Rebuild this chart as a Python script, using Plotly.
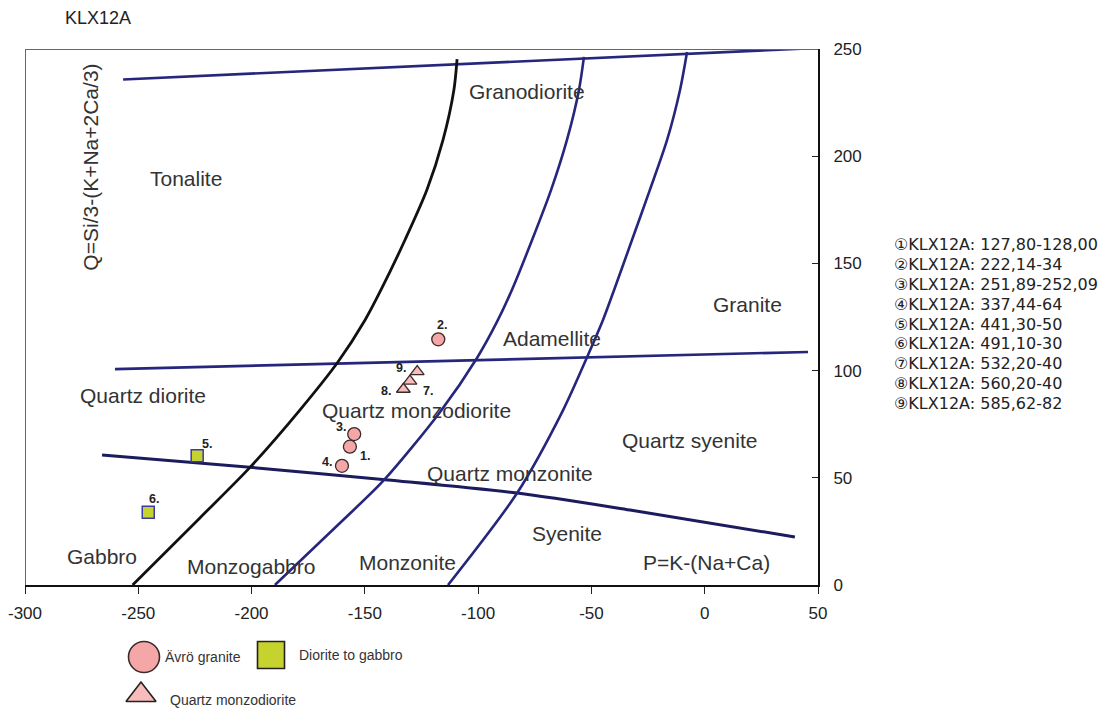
import plotly.graph_objects as go

# ---------------- data ----------------
title_text = "KLX12A"
y_title = "Q=Si/3-(K+Na+2Ca/3)"
x_ticks = [-300, -250, -200, -150, -100, -50, 0, 50]
x_tick_labels = ["-300", "-250", "-200", "-150", "-100", "-50", "0", "50"]
y_ticks = [0, 50, 100, 150, 200, 250]
y_tick_labels = ["0", "50", "100", "150", "200", "250"]

# classification boundaries
upper_x = [-256.7, 50.0]
upper_y = [235.8, 250.5]
middle_x = [-260.3, 45.6]
middle_y = [100.7, 108.7]
lower_x = [-266.0, -197.6, -139.8, -82.8, -33.0, 39.8]
lower_y = [60.6, 54.6, 49.0, 42.9, 35.0, 22.4]
black_x = [-252.5, -222.8, -200.5, -178.6, -161.9, -149.9, -142.9, -132.3, -122.6, -115.5, -110.7, -109.3]
black_y = [0, 31.3, 55.1, 81.7, 104.0, 123.6, 137.6, 160.9, 184.3, 207.6, 230.9, 245.3]
blue2_x = [-189.7, -159.6, -141.5, -116.8, -100.5, -91.7, -85.1, -76.2, -67.8, -60.8, -55.5, -53.3]
blue2_y = [0, 30.3, 49.0, 80.7, 105.9, 122.7, 137.6, 160.9, 184.3, 207.6, 230.9, 246.3]
blue3_x = [-113.3, -82.8, -62.5, -51.5, -44.9, -40.0, -32.1, -24.2, -16.6, -10.9, -7.8]
blue3_y = [0, 42.9, 81.6, 107.3, 123.6, 137.6, 160.9, 184.3, 207.6, 230.9, 248.6]

# samples
granite_x = [-156.6, -117.6, -154.7, -160.1]
granite_y = [64.5, 114.6, 70.4, 55.6]
granite_ids = ["1.", "2.", "3.", "4."]
diorite_x = [-224.0, -245.6]
diorite_y = [60.3, 33.9]
diorite_ids = ["5.", "6."]
qmd_x = [-130.1, -133.0, -126.9]
qmd_y = [95.1, 91.3, 99.5]
qmd_ids = ["7.", "8.", "9."]

region_names = ["Granodiorite", "Tonalite", "Granite", "Adamellite", "Quartz diorite",
                "Quartz monzodiorite", "Quartz syenite", "Quartz monzonite", "Syenite",
                "Gabbro", "Monzogabbro", "Monzonite", "P=K-(Na+Ca)"]
region_x = [-78.6, -228.8, 19.1, -67.2, -248.0, -127.1, -6.5, -85.8, -60.9, -266.0, -200.3, -131.0, 1.0]
region_y = [230.1, 189.8, 130.6, 115.1, 88.2, 81.3, 67.2, 52.1, 24.1, 13.1, 8.5, 10.6, 10.3]

sample_marks = ["①", "②", "③", "④", "⑤", "⑥", "⑦", "⑧", "⑨"]
sample_names = ["KLX12A: 127,80-128,00", "KLX12A: 222,14-34", "KLX12A: 251,89-252,09",
                "KLX12A: 337,44-64", "KLX12A: 441,30-50", "KLX12A: 491,10-30",
                "KLX12A: 532,20-40", "KLX12A: 560,20-40", "KLX12A: 585,62-82"]

legend_names = ["Ävrö granite", "Diorite to gabbro", "Quartz monzodiorite"]

# ---------------- styling / layout ----------------
W, H = 1105, 712
L, R, T = 25, 287, 49
PLOT_BOTTOM = 585
plot_h = H - T
ydom0 = (H - PLOT_BOTTOM) / plot_h

NAVY = "#26267c"
DARKNAVY = "#1b1b5e"
FONT = "Liberation Sans, Arial, sans-serif"

# label offsets in pixels (dx, dy up)
label_shift = {"1.": (15, -9), "2.": (4, 14), "3.": (-13, 7), "4.": (-15, 4),
               "5.": (10, 12), "6.": (6, 13), "7.": (18, -10), "8.": (-17, -2), "9.": (-16, 4)}

fig = go.Figure()

def add_line(xs, ys, color, width, shape="spline"):
    fig.add_trace(go.Scatter(x=xs, y=ys, mode="lines", line=dict(color=color, width=width, shape=shape, smoothing=0.8),
                             hoverinfo="skip", showlegend=False, cliponaxis=True))

add_line(upper_x, upper_y, NAVY, 2.6, "linear")
add_line(middle_x, middle_y, NAVY, 2.6, "linear")
add_line(lower_x, lower_y, DARKNAVY, 3.0)
add_line(black_x, black_y, "#111111", 2.8)
add_line(blue2_x, blue2_y, NAVY, 2.6)
add_line(blue3_x, blue3_y, NAVY, 2.6)

CIRCLE_FILL = "#f5a7a7"
TRI_FILL = "#f8bcbc"
SQ_FILL = "#c6d22e"

fig.add_trace(go.Scatter(x=granite_x, y=granite_y, mode="markers",
                         marker=dict(symbol="circle", size=13, color=CIRCLE_FILL, line=dict(color="#3a2a2a", width=1.3)),
                         showlegend=False, hoverinfo="skip"))
fig.add_trace(go.Scatter(x=diorite_x, y=diorite_y, mode="markers",
                         marker=dict(symbol="square", size=12, color=SQ_FILL, line=dict(color="#3b3ba8", width=1.5)),
                         showlegend=False, hoverinfo="skip"))
fig.add_trace(go.Scatter(x=qmd_x, y=qmd_y, mode="markers",
                         marker=dict(symbol="triangle-up", size=12, color=TRI_FILL, line=dict(color="#3a2a2a", width=1.3)),
                         showlegend=False, hoverinfo="skip"))

annotations = []
for xs, ys, ids in [(granite_x, granite_y, granite_ids), (diorite_x, diorite_y, diorite_ids), (qmd_x, qmd_y, qmd_ids)]:
    for x, y, t in zip(xs, ys, ids):
        dx, dy = label_shift[t]
        annotations.append(dict(x=x, y=y, xref="x", yref="y", text=t, showarrow=False,
                                xshift=dx, yshift=dy, font=dict(family=FONT, size=12.5, color="#222", weight="bold")))

for name, x, y in zip(region_names, region_x, region_y):
    annotations.append(dict(x=x, y=y, xref="x", yref="y", text=name, showarrow=False,
                            font=dict(family=FONT, size=21, color="#333333")))

annotations.append(dict(x=-271.0, y=195.0, xref="x", yref="y", text=y_title, textangle=-90, showarrow=False,
                        font=dict(family=FONT, size=21, color="#333333")))

annotations.append(dict(x=(63 - L) / (W - L - R), y=(H - 18) / plot_h, xref="paper", yref="paper",
                        text=title_text, showarrow=False, xanchor="left", yanchor="middle",
                        font=dict(family=FONT, size=18, color="#222")))

for i, (m, n) in enumerate(zip(sample_marks, sample_names)):
    py = 245 + i * 19.75
    annotations.append(dict(x=(892 - L) / (W - L - R), y=(H - py) / plot_h, xref="paper", yref="paper",
                            text=m + n, showarrow=False, xanchor="left", yanchor="middle",
                            font=dict(family="DejaVu Sans, sans-serif", size=16, color="#222")))

# legend (secondary pixel-like axes in the bottom band)
leg_sym = [("circle", 31, CIRCLE_FILL, "#3a2a2a", 144, 55, 163, 55),
           ("square", 27, SQ_FILL, "#222", 271, 57, 297, 57),
           ("triangle-up", 26, TRI_FILL, "#222", 141, 17, 168, 12)]
for (sym, sz, fill, lc, mx, my, tx, ty), name in zip(leg_sym, legend_names):
    fig.add_trace(go.Scatter(x=[mx], y=[my], xaxis="x2", yaxis="y2", mode="markers",
                             marker=dict(symbol=sym, size=sz, color=fill, line=dict(color=lc, width=1.6)),
                             showlegend=False, hoverinfo="skip", cliponaxis=False))
    annotations.append(dict(x=tx, y=ty, xref="x2", yref="y2", text=name, showarrow=False,
                            xanchor="left", yanchor="middle",
                            font=dict(family=FONT, size=14, color="#333")))

shapes = [
    dict(type="line", xref="x", yref="y", x0=-300, x1=50, y0=250, y1=250, line=dict(color="#666", width=2)),
    dict(type="line", xref="x", yref="y", x0=-300, x1=-300, y0=0, y1=250, line=dict(color="#666", width=2)),
]

fig.update_layout(
    width=W, height=H,
    margin=dict(l=L, r=R, t=T, b=0, autoexpand=False),
    paper_bgcolor="white", plot_bgcolor="white",
    showlegend=False,
    xaxis=dict(domain=[0, 1], range=[-300, 50], tickvals=x_ticks, ticktext=x_tick_labels,
               ticks="outside", ticklen=7, tickcolor="#222", showline=True, linecolor="#111", linewidth=2,
               showgrid=False, zeroline=False, anchor="y", ticklabelstandoff=5, automargin=False,
               tickfont=dict(family=FONT, size=17, color="#222")),
    yaxis=dict(domain=[ydom0, 1], range=[0, 250], tickvals=y_ticks, ticktext=y_tick_labels, side="right",
               ticks="inside", ticklen=6, tickcolor="#222", showline=True, linecolor="#111", linewidth=2,
               showgrid=False, zeroline=False, anchor="x", ticklabelstandoff=10, automargin=False,
               tickfont=dict(family=FONT, size=17, color="#222")),
    xaxis2=dict(domain=[0, 1], range=[L, W - R], visible=False, anchor="y2", fixedrange=True, automargin=False),
    yaxis2=dict(domain=[0, ydom0 * 0.98], range=[0, (H - PLOT_BOTTOM) * 0.98], visible=False, anchor="x2",
                fixedrange=True, automargin=False),
    annotations=annotations,
    shapes=shapes,
)

fig.write_html("out.html")
